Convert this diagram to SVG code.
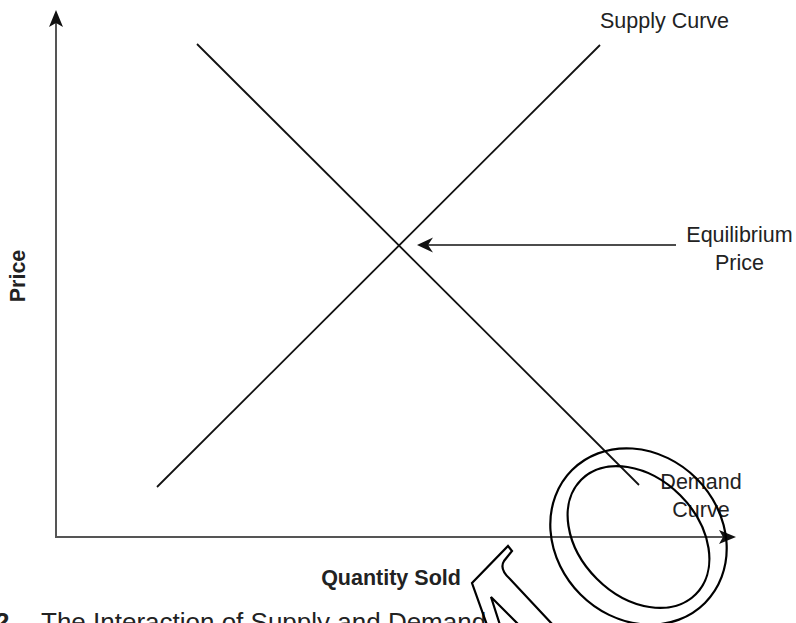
<svg xmlns="http://www.w3.org/2000/svg" width="796" height="623" viewBox="0 0 796 623">
<style>
.lbl{font-family:"Liberation Sans",Arial,sans-serif;font-size:21.5px;fill:#222}
.ax{font-family:"Liberation Sans",Arial,sans-serif;font-size:21.5px;font-weight:bold;fill:#222}
.cap{font-family:"Liberation Sans",Arial,sans-serif;font-size:26px;fill:#222}
.axis{stroke:#555;stroke-width:2;fill:none}
.curve{stroke:#111;stroke-width:1.8;fill:none}
.outline{stroke:#000;stroke-width:2.2;fill:none}
</style>
<rect width="796" height="623" fill="#fff"/>
<g id="axes">
  <path class="axis" d="M56,22 L56,537 L724,537"/>
  <path d="M56,10 L63,27 L56,23 L49,27 Z" fill="#111"/>
  <path d="M736,537 L719,544 L723,537 L719,530 Z" fill="#111"/>
</g>
<g id="connectors">
  <line class="curve" x1="197" y1="44" x2="639" y2="485"/>
  <line class="curve" x1="157" y1="487" x2="600" y2="45"/>
  <line x1="676" y1="245" x2="425" y2="245" stroke="#111" stroke-width="1.5"/>
  <path d="M417,245 L433,237.5 L428,245 L433,252.5 Z" fill="#111"/>
</g>
<g id="supply-label"><text class="lbl" x="600" y="28">Supply Curve</text></g>
<g id="equilibrium-label">
  <text class="lbl" x="739.5" y="242" text-anchor="middle">Equilibrium</text>
  <text class="lbl" x="739.5" y="270" text-anchor="middle">Price</text>
</g>
<g id="demand-label">
  <text class="lbl" x="701" y="489" text-anchor="middle">Demand</text>
  <text class="lbl" x="701" y="517" text-anchor="middle">Curve</text>
</g>
<g id="price-axis-label"><text class="ax" transform="translate(25,276) rotate(-90)" text-anchor="middle">Price</text></g>
<g id="quantity-axis-label"><text class="ax" x="391" y="585" text-anchor="middle">Quantity Sold</text></g>
<g id="caption">
  <text class="cap" x="-5" y="631" font-weight="bold">2</text>
  <text class="cap" x="41" y="631">The Interaction of Supply and Demand</text>
</g>
<g id="watermark-shapes">
  <ellipse class="outline" cx="638.5" cy="536.5" rx="94" ry="82" transform="rotate(45 638.5 536.5)"/>
  <ellipse class="outline" cx="638.5" cy="537" rx="81" ry="59" transform="rotate(45 638.5 537)"/>
  <path class="outline" d="M487,625 L472,583 L508,546 L512,551 L504,561 Q499,569 510,579 L553,625"/>
  <path class="outline" d="M500,625 L491,597 L519,625"/>
</g>
</svg>
